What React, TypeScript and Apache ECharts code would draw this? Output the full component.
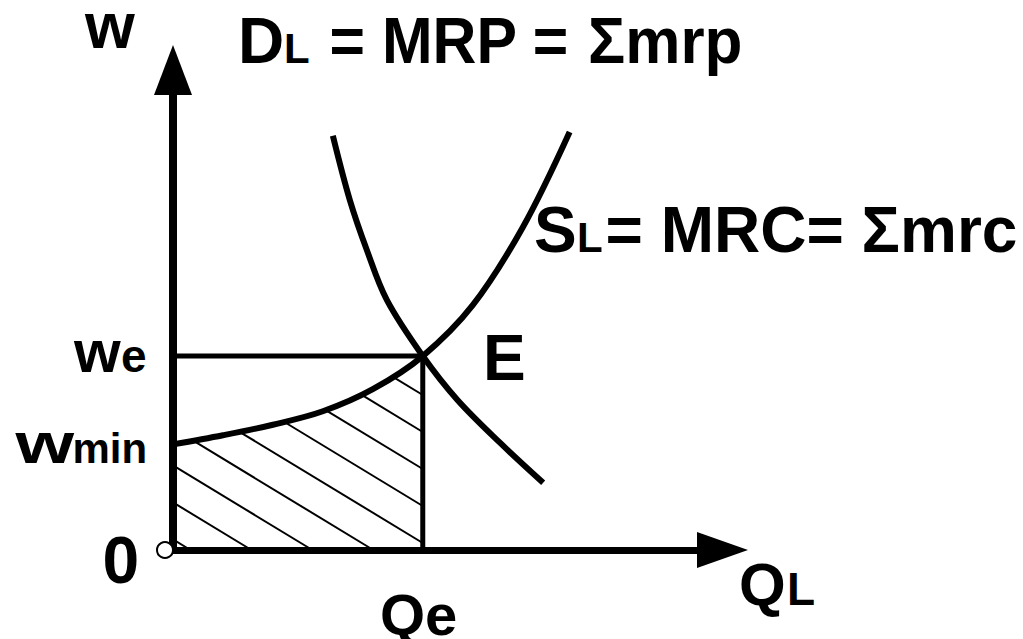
import React, { useEffect, useRef } from 'react';
import * as echarts from 'echarts';

// Supply curve S_L = MRC
const SUPPLY_X = [0, 1, 2, 3, 4, 5, 6, 7, 7.94];
const SUPPLY_Y = [2.2, 2.39, 2.61, 2.89, 3.35, 4.04, 5.1, 6.72, 8.71];
// Demand curve D_L = MRP
const DEMAND_X = [3.2, 3.54, 3.88, 4.28, 5, 5.69, 6.55, 7.41];
const DEMAND_Y = [8.63, 7.29, 6.25, 5.21, 4.04, 3.13, 2.23, 1.4];
// Equilibrium
const QE = 5;
const WE = 4.04;
const X_MAX = 11;
const Y_MAX = 10;

const FONT = '"Liberation Sans", Arial, Helvetica, sans-serif';

function txt(text: string, x: number, baseline: number, size: number, scaleX = 1) {
  return {
    type: 'text',
    x,
    y: baseline - 0.3465 * size,
    scaleX,
    z: 100,
    silent: true,
    style: {
      text,
      fontSize: size,
      fontWeight: 'bold',
      fontFamily: FONT,
      lineHeight: Math.round(size * 0.74),
      fill: '#000',
      textAlign: 'left',
      textVerticalAlign: 'middle',
    },
  };
}

function renderHatch(_params: any, api: any) {
  const poly: number[][] = [api.coord([0, 0])];
  for (let i = 0; i < SUPPLY_X.length; i++) {
    if (SUPPLY_X[i] <= QE) poly.push(api.coord([SUPPLY_X[i], SUPPLY_Y[i]]));
  }
  poly.push(api.coord([QE, 0]));
  const corner = api.coord([QE, 0]);
  const slope = 0.607;
  const gap = 37;
  const phase = 7;
  const children: any[] = [];
  for (let k = -8; k <= 10; k++) {
    const x0 = corner[0];
    const y0 = corner[1] - phase - gap * k;
    const ts: number[] = [];
    for (let i = 0; i < poly.length; i++) {
      const A = poly[i];
      const B = poly[(i + 1) % poly.length];
      const ex = B[0] - A[0];
      const ey = B[1] - A[1];
      const det = -ey + slope * ex;
      if (Math.abs(det) < 1e-9) continue;
      const rx = A[0] - x0;
      const ry = A[1] - y0;
      const t = (-rx * ey + ex * ry) / det;
      const s = (ry - slope * rx) / det;
      if (s >= 0 && s < 1) ts.push(t);
    }
    ts.sort((a, b) => a - b);
    for (let j = 0; j + 1 < ts.length; j += 2) {
      if (ts[j + 1] - ts[j] < 1) continue;
      children.push({
        type: 'line',
        shape: {
          x1: x0 + ts[j],
          y1: y0 + slope * ts[j],
          x2: x0 + ts[j + 1],
          y2: y0 + slope * ts[j + 1],
        },
        style: { stroke: '#000', lineWidth: 2 },
      });
    }
  }
  return { type: 'group', children };
}

export default function App() {
  const ref = useRef<HTMLDivElement>(null);
  useEffect(() => {
    if (!ref.current) return;
    const chart = echarts.init(ref.current, undefined, { renderer: 'svg' });
    const supplyData = SUPPLY_X.map((x, i) => [x, SUPPLY_Y[i]]);
    const demandData = DEMAND_X.map((x, i) => [x, DEMAND_Y[i]]);
    const lineBase = {
      type: 'line',
      showSymbol: false,
      symbol: 'none',
      silent: true,
      clip: false,
    };
    chart.setOption({
      animation: false,
      backgroundColor: '#fff',
      grid: { left: 173, right: 300.5, top: 70, bottom: 89 },
      xAxis: {
        type: 'value',
        min: 0,
        max: X_MAX,
        axisLine: {
          show: true,
          symbol: ['none', 'triangle'],
          symbolSize: [36, 51],
          lineStyle: { color: '#000', width: 7 },
        },
        axisTick: { show: false },
        axisLabel: { show: false },
        splitLine: { show: false },
      },
      yAxis: {
        type: 'value',
        min: 0,
        max: Y_MAX,
        axisLine: {
          show: true,
          symbol: ['none', 'triangle'],
          symbolSize: [38, 50],
          lineStyle: { color: '#000', width: 8 },
        },
        axisTick: { show: false },
        axisLabel: { show: false },
        splitLine: { show: false },
      },
      series: [
        {
          type: 'custom',
          coordinateSystem: 'cartesian2d',
          data: [[0, 0]],
          renderItem: renderHatch,
          silent: true,
          z: 1,
        },
        {
          ...lineBase,
          data: [[0, WE], [QE, WE]],
          lineStyle: { color: '#000', width: 5 },
          z: 3,
        },
        {
          ...lineBase,
          data: [[QE, 0], [QE, WE]],
          lineStyle: { color: '#000', width: 5 },
          z: 3,
        },
        {
          ...lineBase,
          data: supplyData,
          smooth: 0.35,
          lineStyle: { color: '#000', width: 6 },
          z: 4,
        },
        {
          ...lineBase,
          data: demandData,
          smooth: 0.35,
          lineStyle: { color: '#000', width: 6 },
          z: 4,
        },
        {
          type: 'scatter',
          data: [[0, 0]],
          symbol: 'circle',
          symbolSize: 16,
          symbolOffset: [-8, 0],
          clip: false,
          silent: true,
          itemStyle: { color: '#fff', borderColor: '#000', borderWidth: 2, opacity: 1 },
          z: 6,
        },
      ],
      graphic: [
        txt('w', 85, 48, 64),
        txt('D', 238, 63, 64),
        txt('L', 284, 63, 42),
        txt('= MRP =', 329.5, 63, 64, 0.95),
        txt('Σmrp', 588, 63, 64, 0.97),
        txt('S', 534, 252, 64),
        txt('L', 577, 252, 42),
        txt('= MRC= Σmrc', 605.5, 252, 64),
        txt('E', 483, 380, 64),
        txt('Q', 739, 605, 60),
        txt('L', 787, 605, 46),
        txt('Qe', 380, 635, 58),
        txt('w', 74, 372, 60),
        txt('e', 121, 372, 46),
        txt('w', 15.5, 463, 58, 1.3),
        txt('min', 72.4, 463, 42),
        txt('0', 102.4, 583, 66),
      ],
    });
    return () => chart.dispose();
  }, []);
  return (
    <div
      ref={ref}
      style={{ position: 'fixed', left: 0, top: 0, width: 1023, height: 639, background: '#fff' }}
    />
  );
}
